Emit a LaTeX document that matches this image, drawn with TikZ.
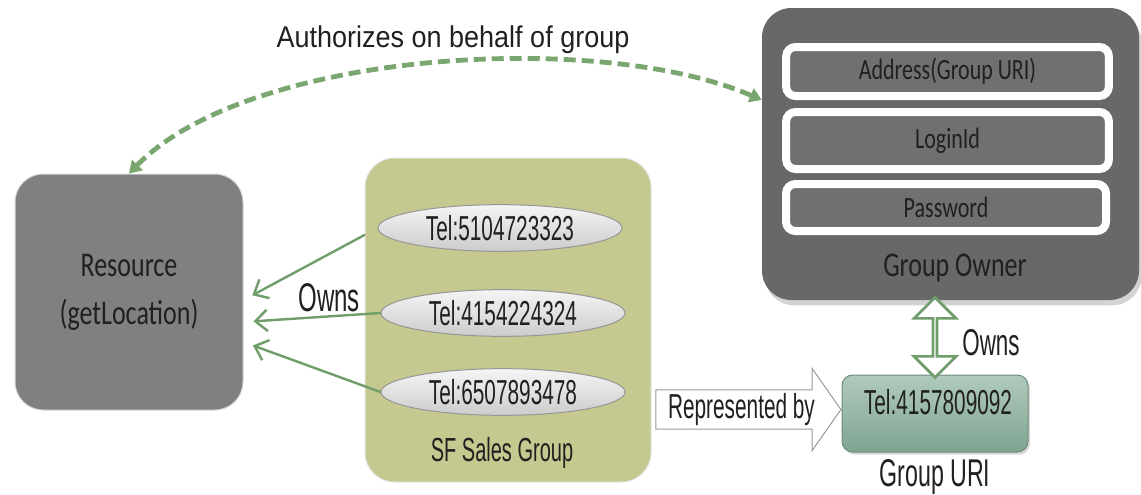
\documentclass[tikz,border=0pt]{standalone}
\usepackage{fontspec}
\usetikzlibrary{arrows.meta,shapes.geometric,shapes.arrows,shadows,calc}

\newfontfamily\narrowfont[FakeStretch=0.6]{Liberation Sans}
\newfontfamily\plainfont[FakeStretch=0.9]{Liberation Sans}
\newfontfamily\boxfont[FakeStretch=0.75]{Carlito}

\definecolor{resgray}{RGB}{128,128,128}
\definecolor{ownergray}{RGB}{104,104,104}
\definecolor{bargray}{RGB}{112,112,112}
\definecolor{darktext}{RGB}{32,32,32}
\definecolor{olive}{RGB}{197,200,143}
\definecolor{owngreen}{RGB}{112,158,106}
\definecolor{dashgreen}{RGB}{122,166,112}
\definecolor{telgray}{RGB}{150,150,150}
\definecolor{uritop}{RGB}{176,202,188}
\definecolor{uribottom}{RGB}{128,164,146}

\tikzset{
  telnode/.style={ellipse, draw=telgray, line width=0.75, top color=white!96!black, bottom color=black!20,
    minimum width=183pt, minimum height=35pt, inner sep=0pt, text=darktext,
    font=\narrowfont\fontsize{26}{30}\selectfont},
  barbox/.style={rectangle, rounded corners=7pt, draw=white, line width=6pt, fill=bargray,
    minimum width=242pt, inner sep=0pt, text=darktext, font=\boxfont\fontsize{22}{26}\selectfont},
  ownsline/.style={draw=owngreen, line width=1.8pt, line cap=round,
    -{Straight Barb[length=9pt,width=16pt,line width=1.8pt]}}
}

\begin{document}
\begin{tikzpicture}[x=0.75pt,y=0.75pt,yscale=-1,xscale=1]
\useasboundingbox (0,0) rectangle (1141,494);

%Rounded Rect
\draw (129,292) node [fill=resgray, draw=white!85!black, line width=0.75, rounded corners=21pt, minimum width=171pt, minimum height=177pt, align=center, text=darktext, font=\boxfont\fontsize{26}{36}\selectfont] (resource) {Resource\\(getLocation)};

%Rounded Rect
\draw (508,320) node [fill=olive, draw=white!90!black, line width=0.75, rounded corners=22pt, minimum width=214.5pt, minimum height=243pt] (sfgroup) {};

% Ellipses
\draw (500,228) node [telnode] (tel1) {Tel:5104723323};
\draw (503,313) node [telnode] (tel2) {Tel:4154224324};
\draw (503,392) node [telnode] (tel3) {Tel:6507893478};

%Straight Lines
\draw [ownsline, shorten <=11pt, shorten >=7.5pt] (tel1.west) -- ([yshift=6pt]resource.east) ;
\draw [ownsline, shorten >=7.5pt] (tel2.west) -- ([yshift=22.5pt]resource.east) ;
\draw [ownsline, shorten >=7.5pt] (tel3.west) -- ([yshift=37.5pt]resource.east) ;

% Text Node
\draw (502,453) node [text=darktext, font=\narrowfont\fontsize{25}{29}\selectfont] (sflabel) {SF Sales Group};
% Text Node
\draw (329,298) node [text=darktext, font=\narrowfont\fontsize{30}{34}\selectfont] (ownsleft) {Owns};

%Rounded Rect
\draw (950.5,154) node [fill=ownergray, rounded corners=22pt, minimum width=282.75pt, minimum height=219pt, drop shadow={shadow xshift=2pt, shadow yshift=-4pt, opacity=0.35}] (owner) {};

% Bars
\draw (947.5,71.5) node [barbox, minimum height=36.75pt] (address) {Address(Group URI)};
\draw (947.5,140.5) node [barbox, minimum height=42.75pt] (loginid) {LoginId};
\draw (946,207.5) node [barbox, minimum height=35.25pt, minimum width=240pt] (password) {Password};

% Text Node
\draw (955,268) node [text=darktext, font=\boxfont\fontsize{26}{30}\selectfont] (ownerlabel) {Group Owner};

%Rounded Rect
\draw (935,413.5) node [top color=uritop, bottom color=uribottom, draw=uribottom!85!black, line width=0.75, rounded corners=8pt, minimum width=139.5pt, minimum height=57.75pt, drop shadow={shadow xshift=1.5pt, shadow yshift=-2pt, opacity=0.3}] (uri) {};
% Text Node
\draw (938,402) node [text=darktext, font=\narrowfont\fontsize{26}{30}\selectfont] (uritel) {Tel:4157809092};
% Text Node
\draw (935,477) node [text=darktext, font=\narrowfont\fontsize{29}{33}\selectfont] (urilabel) {Group URI};

% Double Arrow
\draw ($(uri.north)!0.5!(uri.north|-owner.south)$) node [double arrow, rotate=90, draw=owngreen, fill=white, line width=2pt, inner sep=0pt, minimum height=60pt, minimum width=31.5pt, double arrow head extend=9.4pt] (ownsarrow) {};
% Text Node
\draw (991,343) node [text=darktext, font=\narrowfont\fontsize{28}{32}\selectfont] (ownsright) {Owns};

% Single Arrow
\draw ([yshift=-3pt]uri.west) node [single arrow, anchor=tip, draw=black!40, fill=white, line width=0.75, inner sep=1pt, minimum height=138.75pt, minimum width=61.5pt, single arrow head extend=14.6pt, single arrow tip angle=110, text=darktext, font=\narrowfont\fontsize{26}{30}\selectfont] (reparrow) {Represented by};

%Curve Lines
\draw [draw=dashgreen, line width=3.6pt, dash pattern=on 9pt off 4.5pt, {Triangle[length=9pt,width=11pt]}-{Triangle[length=9pt,width=11pt]}] (resource.north) .. controls (250,50) and (600,30) .. ([yshift=-40.5pt]owner.west) ;
% Text Node
\draw (453,40) node [text=darktext, font=\plainfont\fontsize{22.5}{26}\selectfont] (authlabel) {Authorizes on behalf of group};

\end{tikzpicture}
\end{document}
